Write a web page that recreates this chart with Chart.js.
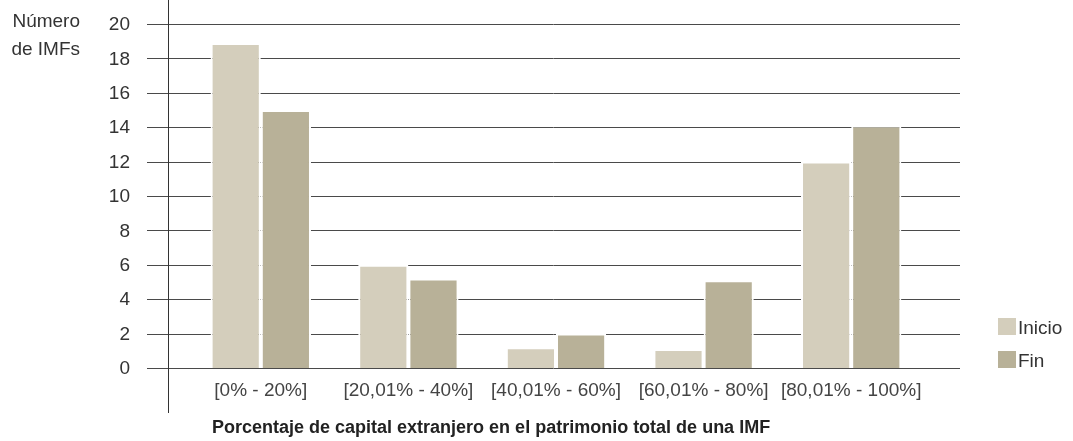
<!DOCTYPE html>
<html>
<head>
<meta charset="utf-8">
<script src="https://cdn.jsdelivr.net/npm/chart.js@4.4.1/dist/chart.umd.min.js"></script>
<style>
  html, body { margin: 0; padding: 0; background: #fff; }
  #wrap { width: 1073px; height: 441px; position: relative; }
</style>
</head>
<body>
<div id="wrap"><canvas id="chart"></canvas></div>
<script>
// datos del grafico
const categorias = ["[0% - 20%]", "[20,01% - 40%]", "[40,01% - 60%]", "[60,01% - 80%]", "[80,01% - 100%]"];
const inicio = [18.9, 6.0, 1.2, 1.1, 12.0];
const fin = [15.0, 5.2, 2.0, 5.1, 14.1];
const yTicks = [0, 2, 4, 6, 8, 10, 12, 14, 16, 18, 20];

const colorInicio = "#D4CEBC";
const colorFin = "#B8B198";
const fuente = "'Liberation Sans', Arial, sans-serif";

// lineas de cuadricula, eje vertical, etiquetas del eje y y textos sueltos
const extras = {
    id: "extras",
    beforeDatasetsDraw(chart) {
        const ctx = chart.ctx;
        const y = chart.scales.y;
        ctx.save();
        ctx.strokeStyle = "#4a4a4a";
        ctx.lineWidth = 1;
        yTicks.forEach(function (t) {
            const py = Math.round(y.getPixelForValue(t)) + 0.5;
            ctx.beginPath();
            ctx.moveTo(147, py);
            ctx.lineTo(960, py);
            ctx.stroke();
        });
        ctx.strokeStyle = "#333";
        ctx.beginPath();
        ctx.moveTo(168.5, 0);
        ctx.lineTo(168.5, 413);
        ctx.stroke();

        ctx.fillStyle = "#333";
        ctx.font = "19px " + fuente;
        ctx.textAlign = "right";
        ctx.textBaseline = "middle";
        yTicks.forEach(function (t) {
            ctx.fillText(String(t), 130, y.getPixelForValue(t) + 1);
        });
        ctx.restore();
    },
    afterDraw(chart) {
        const ctx = chart.ctx;
        ctx.save();
        ctx.fillStyle = "#333";
        ctx.font = "19px " + fuente;
        ctx.textAlign = "right";
        ctx.textBaseline = "alphabetic";
        ctx.fillText("Número", 80, 27);
        ctx.fillText("de IMFs", 80, 55);

        // leyenda
        const items = [["Inicio", colorInicio, 318], ["Fin", colorFin, 351]];
        ctx.textAlign = "left";
        items.forEach(function (it) {
            ctx.fillStyle = it[1];
            ctx.fillRect(998, it[2], 18, 17);
            ctx.fillStyle = "#333";
            ctx.fillText(it[0], 1018, it[2] + 16);
        });

        // titulo del eje x
        ctx.font = "bold 18px " + fuente;
        ctx.fillStyle = "#222";
        ctx.fillText("Porcentaje de capital extranjero en el patrimonio total de una IMF", 212, 433);
        ctx.restore();
    }
};

const data = {
    labels: categorias,
    datasets: [{
        label: "Inicio",
        data: inicio,
        backgroundColor: colorInicio,
        borderColor: "#fff",
        borderWidth: 2,
        barPercentage: 1,
        categoryPercentage: 0.68
    }, {
        label: "Fin",
        data: fin,
        backgroundColor: colorFin,
        borderColor: "#fff",
        borderWidth: 2,
        barPercentage: 1,
        categoryPercentage: 0.68
    }]
};

const config = {
    type: "bar",
    data: data,
    plugins: [extras],
    options: {
        responsive: false,
        animation: false,
        layout: { padding: { left: 0, right: 148, top: 24, bottom: 0 } },
        plugins: {
            legend: { display: false },
            tooltip: { enabled: false }
        },
        scales: {
            x: {
                grid: { display: false },
                border: { display: false },
                ticks: {
                    color: "#444",
                    font: { family: fuente, size: 19 },
                    padding: 3,
                    maxRotation: 0,
                    autoSkip: false
                },
                afterFit: function (s) { s.height = 73; }
            },
            y: {
                min: 0,
                max: 20,
                grid: { display: false, drawTicks: false },
                border: { display: false },
                ticks: { display: false, stepSize: 2 },
                afterFit: function (s) { s.width = 187; }
            }
        }
    }
};

const canvas = document.getElementById("chart");
canvas.width = 1073;
canvas.height = 441;
const chart1 = new Chart(canvas, config);
</script>
</body>
</html>
